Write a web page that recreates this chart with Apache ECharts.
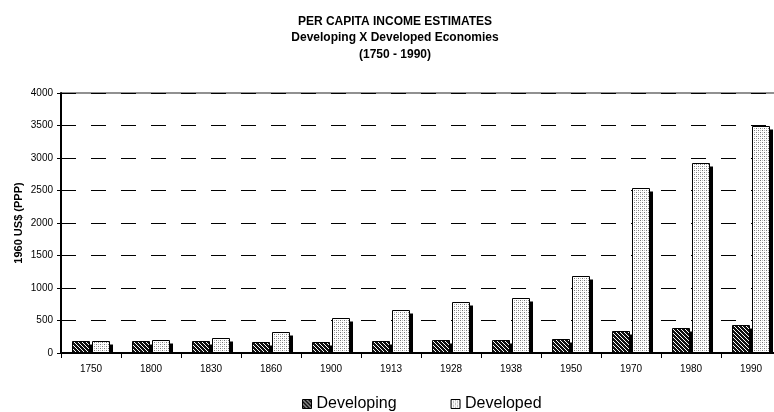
<!DOCTYPE html>
<html>
<head>
<meta charset="utf-8">
<script src="https://cdn.jsdelivr.net/npm/echarts@6/dist/echarts.min.js"></script>
<style>
  html, body { margin: 0; padding: 0; background: #fff; }
  #chart { width: 774px; height: 412px; }
</style>
</head>
<body>
<div id="chart"></div>
<script>
// Per capita income, 1960 US$ (PPP)
const years = ['1750', '1800', '1830', '1860', '1900', '1913', '1928', '1938', '1950', '1970', '1980', '1990'];
const developing = [185, 190, 185, 175, 175, 190, 198, 200, 210, 340, 385, 430];
const developed = [180, 200, 230, 325, 538, 658, 780, 848, 1178, 2542, 2925, 3500];
const yTicks = [0, 500, 1000, 1500, 2000, 2500, 3000, 3500, 4000];

const FONT = '"Liberation Sans", Arial, sans-serif';

// Fill tiles: dark diagonal hatch and light dotted screen
function hatchTile() {
  const c = document.createElement('canvas');
  c.width = 4; c.height = 4;
  const g = c.getContext('2d');
  g.fillStyle = '#111';
  g.fillRect(0, 0, 4, 4);
  g.fillStyle = '#fff';
  for (let i = 0; i < 4; i++) g.fillRect(i, i, 1, 1);
  return { image: c, repeat: 'repeat' };
}
function dotTile() {
  const c = document.createElement('canvas');
  c.width = 4; c.height = 4;
  const g = c.getContext('2d');
  g.fillStyle = '#fff';
  g.fillRect(0, 0, 4, 4);
  g.fillStyle = '#777';
  g.fillRect(0, 0, 1, 1);
  g.fillRect(2, 2, 1, 1);
  g.fillStyle = '#bbb';
  g.fillRect(2, 0, 1, 1);
  g.fillRect(0, 2, 1, 1);
  return { image: c, repeat: 'repeat' };
}
const hatch = hatchTile();
const dots = dotTile();

const BAR_W = 17;

// Each bar is drawn with a hard black drop shadow to its lower right
function barRenderer(slot, fill) {
  return function (params, api) {
    const idx = api.value(0);
    const topPt = api.coord([idx, api.value(1)]);
    const basePt = api.coord([idx, 0]);
    const cx = Math.round(topPt[0]);
    const x0 = slot === 0 ? cx - BAR_W - 1.5 : cx + 1.5;
    const yTop = Math.round(topPt[1]) + 0.5;
    const yBase = basePt[1];
    return {
      type: 'group',
      children: [
        {
          type: 'rect',
          shape: { x: x0 + 3, y: yTop + 3, width: BAR_W + 0.5, height: yBase - yTop - 3 },
          style: { fill: '#000' }
        },
        {
          type: 'rect',
          shape: { x: x0, y: yTop, width: BAR_W, height: yBase - yTop },
          style: { fill: fill, stroke: '#000', lineWidth: 1 }
        }
      ]
    };
  };
}

const chart = echarts.init(document.getElementById('chart'), null, { renderer: 'canvas' });

chart.setOption({
  animation: false,
  backgroundColor: '#fff',
  graphic: [
    {
      type: 'text', x: 395, y: 13,
      style: {
        text: 'PER CAPITA INCOME ESTIMATES\nDeveloping X Developed Economies\n(1750 - 1990)',
        font: 'bold 12px ' + FONT, fill: '#000', textAlign: 'center', lineHeight: 16.5
      }
    }
  ],
  grid: {
    left: 61, top: 93, width: 720, height: 260,
    outerBoundsMode: 'none',
    containLabel: false,
    show: true, borderColor: '#222', borderWidth: 1, backgroundColor: 'transparent'
  },
  legend: {
    left: 302, top: 396, padding: 0,
    itemWidth: 9, itemHeight: 9, itemGap: 54,
    icon: 'rect',
    textStyle: { fontFamily: FONT, fontSize: 16, color: '#000' },
    data: [
      { name: 'Developing', itemStyle: { color: hatch, borderColor: '#000', borderWidth: 1 } },
      { name: 'Developed', itemStyle: { color: dots, borderColor: '#000', borderWidth: 1 } }
    ]
  },
  xAxis: {
    type: 'category',
    data: years,
    boundaryGap: true,
    axisLine: { lineStyle: { color: '#000', width: 2 } },
    axisTick: { show: true, length: 5, lineStyle: { color: '#000', width: 1 } },
    axisLabel: { fontFamily: FONT, fontSize: 10, color: '#000', margin: 11 },
    splitLine: { show: false },
    z: 5
  },
  yAxis: {
    type: 'value',
    min: yTicks[0], max: yTicks[yTicks.length - 1], interval: 500,
    name: '1960 US$ (PPP)',
    nameLocation: 'middle', nameRotate: 90, nameGap: 37,
    nameMoveOverlap: false,
    nameTextStyle: { fontFamily: FONT, fontSize: 11, fontWeight: 'bold', color: '#000' },
    axisLine: { show: true, lineStyle: { color: '#000', width: 2 } },
    axisTick: { show: true, length: 4, lineStyle: { color: '#000', width: 1 } },
    axisLabel: { fontFamily: FONT, fontSize: 10, color: '#000', margin: 8, formatter: v => String(v) },
    splitLine: { show: true, lineStyle: { color: '#000', width: 1, type: [15, 15], dashOffset: 0 } },
    z: 0
  },
  series: [
    {
      name: 'Developing', type: 'custom',
      itemStyle: { color: hatch, borderColor: '#000', borderWidth: 1 },
      encode: { x: 0, y: 1 },
      data: developing.map((v, i) => [i, v]),
      renderItem: barRenderer(0, hatch)
    },
    {
      name: 'Developed', type: 'custom',
      itemStyle: { color: dots, borderColor: '#000', borderWidth: 1 },
      encode: { x: 0, y: 1 },
      data: developed.map((v, i) => [i, v]),
      renderItem: barRenderer(1, dots)
    }
  ]
});
</script>
</body>
</html>
